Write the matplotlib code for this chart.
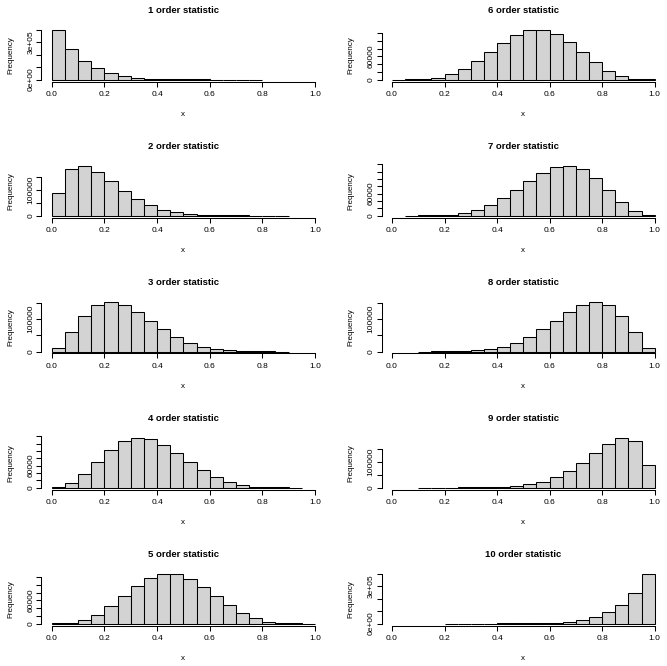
import matplotlib
matplotlib.use('Agg')
import matplotlib.pyplot as plt
import numpy as np

plt.rcParams['font.family'] = ['Liberation Sans', 'DejaVu Sans']

# ---------------- data ----------------
bin_width = 0.05
titles = ["%d order statistic" % k for k in range(1, 11)]

starts = [0.00, 0.00, 0.00, 0.00, 0.00, 0.00, 0.05, 0.10, 0.10, 0.20]

counts_1 = [401263, 250059, 151804, 89500, 51060, 28066, 14785, 7416, 3514, 1556,
            636, 236, 77, 22, 5, 1]
counts_2 = [86138, 177764, 191799, 168490, 131783, 94718, 63353, 39597, 23101, 12515,
            6254, 2811, 1125, 408, 115, 24, 5, 1]
counts_3 = [11503, 58689, 109612, 142397, 152205, 142812, 121177, 94315, 67733, 44869,
            27304, 15090, 7461, 3242, 1176, 336, 71, 8]
counts_4 = [1028, 11768, 37174, 70904, 103250, 126266, 135787, 131542, 116246, 94160,
            69882, 47232, 28725, 15443, 7088, 2640, 731, 124, 10]
counts_5 = [63, 1573, 8238, 22920, 45332, 72143, 98243, 118384, 128702, 127449,
            115388, 95327, 71291, 47597, 27623, 13357, 4987, 1235, 146, 2]
counts_6 = [2, 146, 1235, 4987, 13357, 27623, 47597, 71291, 95327, 115388,
            127449, 128702, 118384, 98243, 72143, 45332, 22920, 8238, 1573, 63]
counts_7 = [10, 124, 731, 2640, 7088, 15443, 28725, 47232, 69882, 94160,
            116246, 131542, 135787, 126266, 103250, 70904, 37174, 11768, 1028]
counts_8 = [8, 71, 336, 1176, 3242, 7461, 15090, 27304, 44869, 67733,
            94315, 121177, 142812, 152205, 142397, 109612, 58689, 11503]
counts_9 = [1, 5, 24, 115, 408, 1125, 2811, 6254, 12515, 23101,
            39597, 63353, 94718, 131783, 168490, 191799, 177764, 86138]
counts_10 = [1, 5, 22, 77, 236, 636, 1556, 3514, 7416, 14785,
             28066, 51060, 89500, 151804, 250059, 401263]

all_counts = [counts_1, counts_2, counts_3, counts_4, counts_5,
              counts_6, counts_7, counts_8, counts_9, counts_10]

ytick_step = [100000, 50000, 50000, 20000, 20000, 20000, 20000, 50000, 50000, 100000]
ytick_top = [400000, 150000, 150000, 140000, 120000, 120000, 140000, 150000, 150000, 400000]
ytick_shown = [{0: "0e+00", 300000: "3e+05"},
               {0: "0", 100000: "100000"},
               {0: "0", 100000: "100000"},
               {0: "0", 60000: "60000"},
               {0: "0", 60000: "60000"},
               {0: "0", 60000: "60000"},
               {0: "0", 60000: "60000"},
               {0: "0", 100000: "100000"},
               {0: "0", 100000: "100000"},
               {0: "0e+00", 300000: "3e+05"}]
xticks = [0.0, 0.2, 0.4, 0.6, 0.8, 1.0]
xtick_labels = ["0.0", "0.2", "0.4", "0.6", "0.8", "1.0"]

# ---------------- layout ----------------
W, H = 667, 666
fig = plt.figure(figsize=(W / 100, H / 100), dpi=100)
fig.patch.set_facecolor('white')

col_left = [41.2, 381.5]
col_right = [325.5, 665.2]
baselines = [79.5 + 136.0 * r for r in range(5)]
plot_h = 53.7
lw = 0.75

for idx in range(10):
    col = idx // 5
    row = idx % 5
    base = baselines[row]
    bottom = base + 2.0
    top = bottom - plot_h
    left = col_left[col]
    right = col_right[col]
    ax = fig.add_axes([left / W, 1 - bottom / H, (right - left) / W, (bottom - top) / H])
    ax.set_facecolor('none')

    c = np.array(all_counts[idx], dtype=float)
    edges = starts[idx] + bin_width * np.arange(len(c))
    ax.bar(edges, c, width=bin_width, align='edge', facecolor='#D3D3D3',
           edgecolor='black', linewidth=lw)
    ymax = c.max()
    ax.set_xlim(-0.04, 1.04)
    ax.set_ylim(-0.04 * ymax, 1.04 * ymax)

    for s in ['top', 'right']:
        ax.spines[s].set_visible(False)
    for s in ['left', 'bottom']:
        ax.spines[s].set_linewidth(lw)
    ax.spines['bottom'].set_bounds(0, 1)
    ax.spines['left'].set_bounds(0, ytick_top[idx])

    ax.set_xticks(xticks)
    ax.set_xticklabels(xtick_labels)
    yt = list(range(0, ytick_top[idx] + 1, ytick_step[idx]))
    ax.set_yticks(yt)
    ax.set_yticklabels([ytick_shown[idx].get(v, "") for v in yt], rotation=90, va='center')
    ax.tick_params(axis='both', direction='out', length=3.6, width=lw, labelsize=6,
                   colors='black')
    ax.tick_params(axis='x', pad=3.2)
    ax.tick_params(axis='y', pad=1.3)

    cx = (left + right) / 2
    fig.text(cx / W, 1 - (base - 68.8) / H, titles[idx], ha='center', va='center',
             fontsize=6.8, fontweight='bold')
    fig.text(cx / W, 1 - (base + 35.5) / H, "x", ha='center', va='center', fontsize=5.8)
    fig.text((left - 30.2) / W, 1 - ((top + bottom) / 2) / H, "Frequency",
             ha='center', va='center', rotation=90, fontsize=5.8)

fig.savefig('out.png', dpi=100)
